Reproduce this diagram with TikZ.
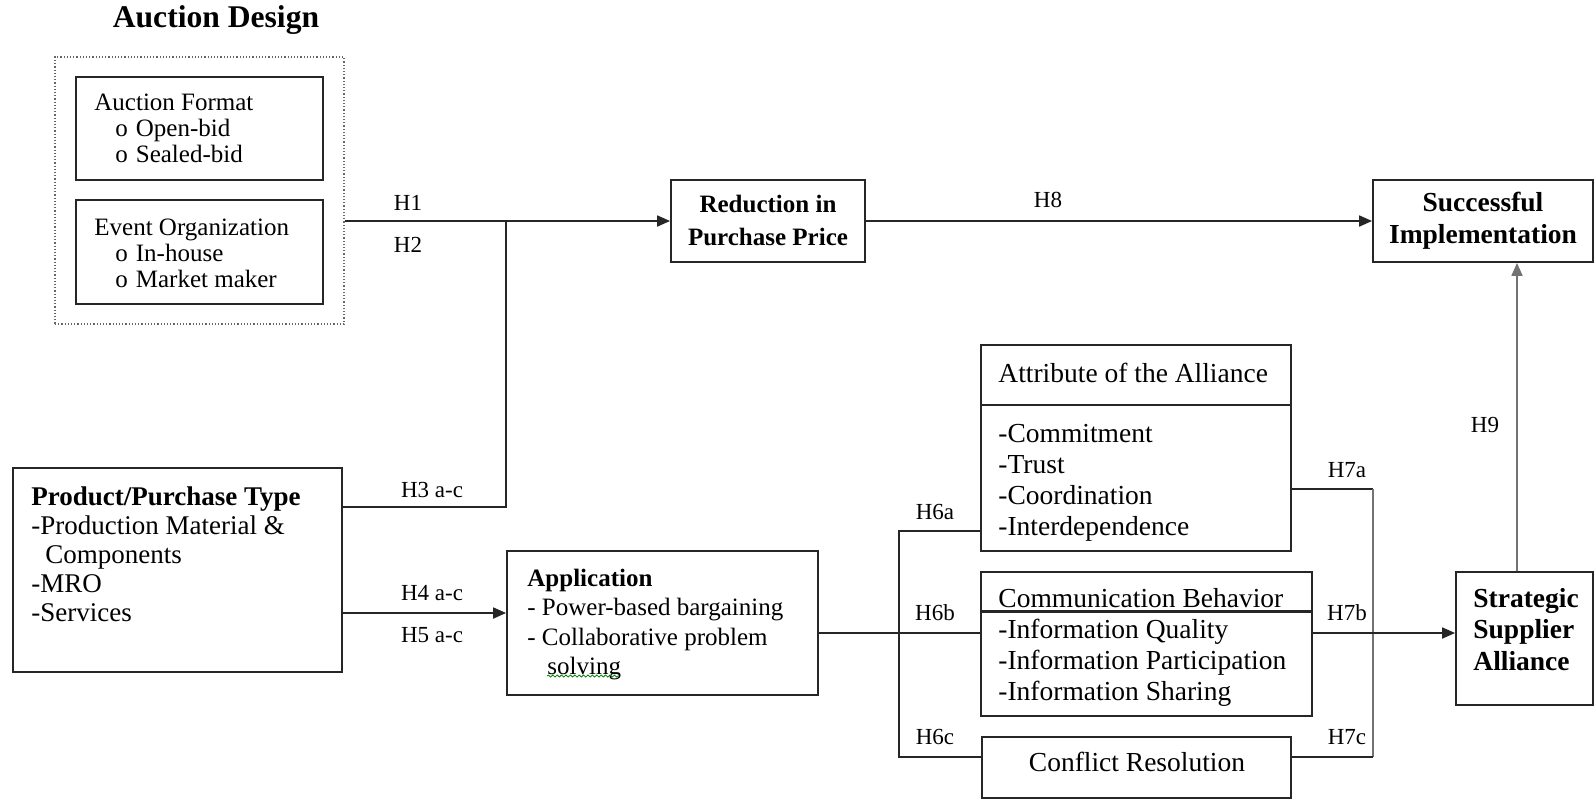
\documentclass[tikz,border=0pt]{standalone}
\usepackage{fontspec}
\setmainfont{Liberation Serif}
\usetikzlibrary{arrows.meta,decorations.pathmorphing}
\newcommand{\optitem}[1]{\hspace*{10.5pt}o\hspace{4pt}#1}
\tikzset{
  box/.style={draw=black!85,line width=0.9pt,inner sep=0pt},
  txt/.style={inner sep=0pt,align=left,anchor=north west},
  hyp/.style={inner sep=0pt,font=\fontsize{11.5}{13}\selectfont},
  link/.style={draw=black!85,line width=0.9pt},
  arr/.style={link,-{Triangle[length=6.5pt,width=5.5pt]}},
}
\begin{document}
\begin{tikzpicture}[x=0.5pt,y=-0.5pt]
\useasboundingbox (0,0) rectangle (1595,799);
%% auction design
\node[font=\bfseries\fontsize{15.8}{18}\selectfont] (title) at (216,20) {Auction Design};
\node[box,draw=black!60,line width=0.6pt,densely dotted,minimum width=144.5pt,minimum height=133.5pt] (design) at (199.5,190.5) {};
\node[box,minimum width=123.5pt,minimum height=51.5pt] (fmt) at (199.5,128.5) {};
\node[box,minimum width=123.5pt,minimum height=52pt] (org) at (199.5,252) {};
\node[txt,font=\fontsize{12.5}{13}\selectfont] (fmttext) at (94,94) {Auction Format\\\optitem{Open-bid}\\\optitem{Sealed-bid}};
\node[txt,font=\fontsize{12.5}{13}\selectfont] (orgtext) at (94,219) {Event Organization\\\optitem{In-house}\\\optitem{Market maker}};
%% outcomes
\node[box,minimum width=97pt,minimum height=41pt] (red) at (768,221) {};
\node[inner sep=0pt,align=center,font=\bfseries\fontsize{12.5}{16.5}\selectfont] (redtext) at (768,220) {Reduction in\\Purchase Price};
\node[box,minimum width=110pt,minimum height=41pt] (succ) at (1483,221) {};
\node[inner sep=0pt,align=center,font=\bfseries\fontsize{13.75}{16}\selectfont] (succtext) at (1483,221) {Successful\\Implementation};
%% product type and application
\node[box,minimum width=164.5pt,minimum height=102pt] (prod) at (177.5,570) {};
\node[txt,font=\fontsize{13.5}{14.5}\selectfont] (prodtext) at (31,486) {\textbf{Product/Purchase Type}\\-Production Material \&\\\hspace*{7pt}Components\\-MRO\\-Services};
\node[box,minimum width=155.5pt,minimum height=72pt] (app) at (662.5,623) {};
\node[txt,font=\fontsize{12.5}{14.6}\selectfont] (apptext) at (527,569) {\textbf{Application}\\- Power-based bargaining\\- Collaborative problem\\\hspace*{10pt}solving};
\draw[green!50!black,line width=0.4pt,decorate,decoration={snake,amplitude=0.5pt,segment length=2.2pt}] (547,676) -- (618,676);
%% alliance
\node[box,minimum width=155pt,minimum height=103pt] (attr) at (1136,448) {};
\draw[link] ([yshift=-30.5pt]attr.north west) -- ([yshift=-30.5pt]attr.north east);
\node[txt,font=\fontsize{13.75}{15.5}\selectfont] (attrhead) at (998,363) {Attribute of the Alliance};
\node[txt,font=\fontsize{13.75}{15.5}\selectfont] (attrtext) at (998,424) {-Commitment\\-Trust\\-Coordination\\-Interdependence};
\node[box,minimum width=165.5pt,minimum height=72pt] (comm) at (1146.5,644) {};
\draw[link,line width=1.6pt] ([yshift=-20pt]comm.north west) -- ([yshift=-20pt]comm.north east);
\node[txt,font=\fontsize{13.75}{15.5}\selectfont] (commhead) at (998,588) {Communication Behavior};
\node[txt,font=\fontsize{13.75}{15.5}\selectfont] (commtext) at (998,619) {-Information Quality\\-Information Participation\\-Information Sharing};
\node[box,minimum width=154.5pt,minimum height=30.5pt] (confl) at (1136.5,767.5) {};
\node[inner sep=0pt,font=\fontsize{13.75}{15.5}\selectfont] (confltext) at (1137,762) {Conflict Resolution};
\node[box,minimum width=68.5pt,minimum height=66.5pt] (ssa) at (1524.5,638.5) {};
\node[txt,font=\bfseries\fontsize{13.75}{15.75}\selectfont] (ssatext) at (1473,588) {Strategic\\Supplier\\Alliance};
%% connectors
\coordinate (j1) at (506,221);
\coordinate (j3) at (506,507);
\coordinate (j4) at (420,613);
\coordinate (b6a) at (899,531);
\coordinate (b6b) at (899,633);
\coordinate (b6c) at (899,757);
\coordinate (b7a) at (1373,489);
\coordinate (b7c) at (1373,757);
\coordinate (h9) at (1517,425);
\draw[arr] (design.east |- red.west) -- (red.west);
\draw[link] (prod.east |- j3) -- (j3) -- (j1);
\draw[arr] (prod.east |- j4) -- (app.west |- j4);
\draw[link] (app.east |- b6b) -- (comm.west |- b6b);
\draw[link] (attr.west |- b6a) -- (b6a) -- (b6c) -- (confl.west |- b6c);
\draw[link] (attr.east |- b7a) -- (b7a);
\draw[link,draw=black!55] (b7a) -- (b7c);
\draw[link] (b7c) -- (confl.east |- b7c);
\draw[arr] (comm.east |- b6b) -- (ssa.west |- b6b);
\draw[arr] (red.east) -- (succ.west);
\draw[arr,draw=black!55] (ssa.north -| h9) -- (succ.south -| h9);
%% labels
\node[hyp] (lh1) at (408,203) {H1};
\node[hyp] (lh2) at (408,245) {H2};
\node[hyp] (lh3) at (432,490) {H3 a-c};
\node[hyp] (lh4) at (432,593) {H4 a-c};
\node[hyp] (lh5) at (432,635) {H5 a-c};
\node[hyp] (lh6a) at (935,512) {H6a};
\node[hyp] (lh6b) at (935,613) {H6b};
\node[hyp] (lh6c) at (935,737) {H6c};
\node[hyp] (lh7a) at (1347,470) {H7a};
\node[hyp] (lh7b) at (1347,613) {H7b};
\node[hyp] (lh7c) at (1347,737) {H7c};
\node[hyp] (lh8) at (1048,200) {H8};
\node[hyp] (lh9) at (1485,425) {H9};
\end{tikzpicture}
\end{document}
